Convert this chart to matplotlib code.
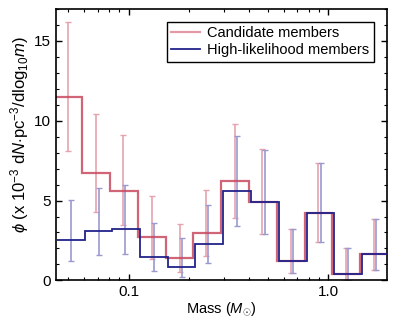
import numpy as np
import matplotlib.pyplot as plt
from matplotlib.lines import Line2D
from matplotlib.ticker import LogLocator, MultipleLocator, FixedFormatter, FixedLocator, NullFormatter

plt.rcParams['font.family'] = ['Liberation Sans', 'DejaVu Sans']
plt.rcParams['mathtext.fontset'] = 'custom'
plt.rcParams['mathtext.rm'] = 'Liberation Sans'
plt.rcParams['mathtext.it'] = 'Liberation Sans:italic'
plt.rcParams['mathtext.fallback'] = 'cm'

# bin centres (solar masses) and densities (x 1e-3)
mass = [0.050, 0.069, 0.094, 0.131, 0.180, 0.244, 0.342, 0.468, 0.649, 0.891, 1.226, 1.692]

cand = [11.5, 6.7, 5.6, 2.7, 1.4, 2.95, 6.25, 4.93, 1.22, 4.24, 0.43, 1.64]
cand_lo = [8.1, 4.28, 3.44, 1.33, 0.53, 1.52, 3.9, 2.92, 0.45, 2.42, 0.03, 0.66]
cand_hi = [16.18, 10.41, 9.09, 5.26, 3.55, 5.64, 9.80, 8.21, 3.19, 7.33, 2.02, 3.86]

high = [2.5, 3.09, 3.21, 1.48, 0.83, 2.29, 5.60, 4.91, 1.20, 4.24, 0.41, 1.64]
high_lo = [1.22, 1.62, 1.68, 0.60, 0.24, 1.08, 3.42, 2.90, 0.45, 2.42, 0.03, 0.66]
high_hi = [5.03, 5.76, 5.95, 3.61, 2.67, 4.74, 9.03, 8.15, 3.19, 7.33, 2.02, 3.86]


def bin_edges(centres):
    lc = np.log10(centres)
    mids = (lc[1:] + lc[:-1]) / 2
    step = np.mean(np.diff(lc))
    return 10 ** np.concatenate([[lc[0] - step / 2], mids, [lc[-1] + step / 2]])


fig = plt.figure(figsize=(3.99, 3.19), dpi=100)
ax = fig.add_axes([0.140, 0.121, 0.830, 0.851])

m = np.array(mass)
mb = m * 10 ** 0.011  # blue points shifted slightly right

c = np.array(cand)
h = np.array(high)

ax.errorbar(m, c, yerr=[c - np.array(cand_lo), np.array(cand_hi) - c], fmt='none',
            ecolor='#e6a3ae', elinewidth=1.2, capsize=2.2, capthick=1.0, zorder=1)
ax.errorbar(mb, h, yerr=[h - np.array(high_lo), np.array(high_hi) - h], fmt='none',
            ecolor='#9a9ad0', elinewidth=1.2, capsize=2.2, capthick=1.0, zorder=1)

ax.stairs(c, bin_edges(m), baseline=None, color='#c84a60', alpha=0.85, lw=1.6, zorder=2)
ax.stairs(h, bin_edges(mb), baseline=None, color='#22228a', lw=1.3, zorder=3)

ax.set_xscale('log')
ax.set_xlim(0.0433, 1.966)
ax.set_ylim(0, 17)

ax.xaxis.set_major_locator(FixedLocator([0.1, 1.0]))
ax.xaxis.set_major_formatter(FixedFormatter(['0.1', '1.0']))
ax.xaxis.set_minor_locator(LogLocator(base=10, subs=np.arange(2, 10)))
ax.xaxis.set_minor_formatter(NullFormatter())
ax.yaxis.set_major_locator(MultipleLocator(5))
ax.yaxis.set_minor_locator(MultipleLocator(1))

ax.tick_params(which='both', direction='in', top=True, right=True, labelsize=11, color='black')
ax.tick_params(which='major', length=4, width=1)
ax.tick_params(which='minor', length=2.5, width=0.8)
for s in ax.spines.values():
    s.set_linewidth(1.2)

ax.set_xlabel(r'Mass ($M_{\odot}$)', fontsize=10.5, labelpad=1)
ax.set_ylabel(r'$\phi$ (x 10$^{-3}$ d$N$$\cdot$pc$^{-3}$/dlog$_{10}$$m$)', fontsize=12)
ax.yaxis.set_label_coords(-0.074, 0.536)

handles = [Line2D([], [], color='#e39aa6', lw=1.6),
           Line2D([], [], color='#22228a', lw=1.3)]
leg = ax.legend(handles, ['Candidate members', 'High-likelihood members'], loc='upper right',
                fontsize=10.5, fancybox=False, framealpha=1, edgecolor='black',
                handlelength=2.0, borderpad=0.3, labelspacing=0.2, handletextpad=0.5,
                borderaxespad=0.9)
leg.get_frame().set_linewidth(1.0)

fig.savefig('out.png', dpi=100)
